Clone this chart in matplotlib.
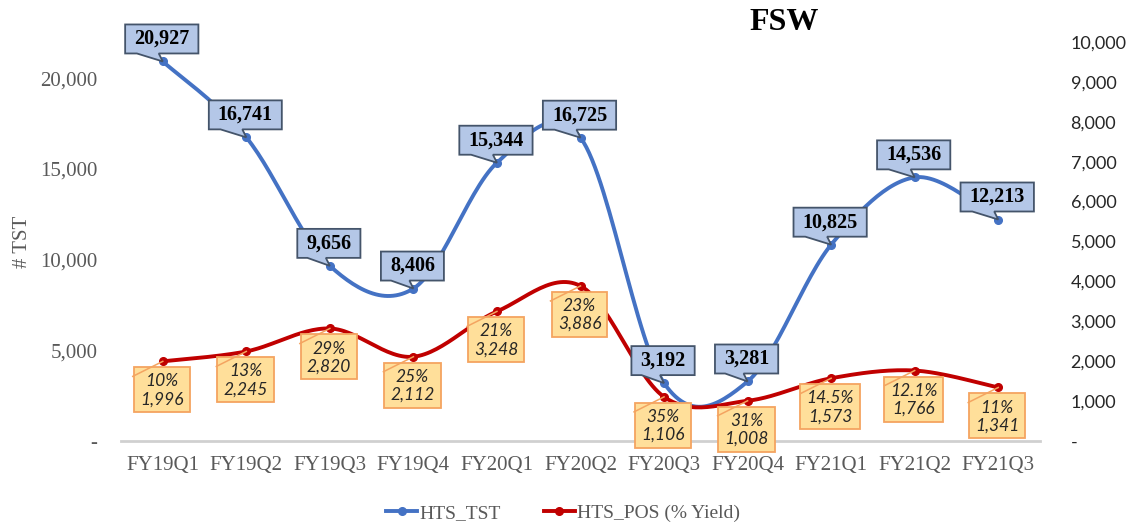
import matplotlib
matplotlib.use("Agg")
import matplotlib.pyplot as plt
import numpy as np
from matplotlib.patches import Polygon, Rectangle
from matplotlib.lines import Line2D
from matplotlib.transforms import IdentityTransform

categories = ["FY19Q1", "FY19Q2", "FY19Q3", "FY19Q4", "FY20Q1", "FY20Q2",
              "FY20Q3", "FY20Q4", "FY21Q1", "FY21Q2", "FY21Q3"]
hts_tst = [20927, 16741, 9656, 8406, 15344, 16725, 3192, 3281, 10825, 14536, 12213]
hts_pos = [1996, 2245, 2820, 2112, 3248, 3886, 1106, 1008, 1573, 1766, 1341]
pos_yield = ["10%", "13%", "29%", "25%", "21%", "23%", "35%", "31%", "14.5%", "12.1%", "11%"]
left_ticks = [0, 5000, 10000, 15000, 20000]
right_ticks = [0, 1000, 2000, 3000, 4000, 5000, 6000, 7000, 8000, 9000, 10000]

BLUE = "#4472C4"
RED = "#C00000"
SERIF = "Liberation Serif"
SANS = "Lato"
GRAY = "#595959"


def smooth(xs, ys, n=30):
    """Excel-style smoothed line (Bezier through points, tension 1/6)."""
    xs = np.asarray(xs, float)
    ys = np.asarray(ys, float)
    P = np.column_stack([xs, ys])
    out = []
    m = len(P)
    for i in range(m - 1):
        p0 = P[i - 1] if i > 0 else P[i]
        p1 = P[i]
        p2 = P[i + 1]
        p3 = P[i + 2] if i + 2 < m else P[i + 1]
        c1 = p1 + (p2 - p0) / 6.0
        c2 = p2 - (p3 - p1) / 6.0
        t = np.linspace(0, 1, n)[:, None]
        seg = ((1 - t) ** 3) * p1 + 3 * ((1 - t) ** 2) * t * c1 + 3 * (1 - t) * t ** 2 * c2 + t ** 3 * p2
        if i > 0:
            seg = seg[1:]
        out.append(seg)
    out = np.vstack(out)
    return out[:, 0], out[:, 1]


fig = plt.figure(figsize=(11.35, 5.27), dpi=100)
ax = fig.add_axes([121 / 1135, 1 - 441 / 527, (1040 - 121) / 1135, (441 - 42) / 527])
ax2 = ax.twinx()

x = np.arange(len(categories))

ax.set_xlim(-0.5, len(categories) - 0.5)
ax.set_ylim(0, 22000)
ax2.set_ylim(0, 10000)

# lines
sx, sy = smooth(x, hts_tst)
ax.plot(sx, sy, color=BLUE, lw=2.8, solid_capstyle="round", zorder=3)
ax.plot(x, hts_tst, "o", color=BLUE, ms=5.5, zorder=4)
rx, ry = smooth(x, hts_pos)
ax2.plot(rx, ry, color=RED, lw=2.8, solid_capstyle="round", zorder=3)
ax2.plot(x, hts_pos, "o", color=RED, ms=5.5, zorder=4)

# axes styling
for a in (ax, ax2):
    for s in a.spines.values():
        s.set_visible(False)
ax.axhline(0, color="#D0D0D0", lw=2, zorder=1, clip_on=False)

ax.set_xticks(x)
ax.set_xticklabels(categories, fontfamily=SERIF, fontsize=15, color=GRAY)
ax.tick_params(axis="x", length=0, pad=11)

ax.set_yticks(left_ticks)
ax.set_yticklabels(["-" if v == 0 else f"{v:,}" for v in left_ticks],
                   fontfamily=SERIF, fontsize=15, color=GRAY)
ax.tick_params(axis="y", length=0, pad=17)
ax.set_ylabel("# TST", fontfamily=SERIF, fontsize=15, color=GRAY, labelpad=6)

ax2.set_yticks(right_ticks)
ax2.set_yticklabels(["-" if v == 0 else f"{v:,}" for v in right_ticks],
                    fontfamily=SANS, fontsize=13, color="#262626")
ax2.tick_params(axis="y", length=0, pad=22)

fig.text(784 / 1135, 1 - 22 / 527, "FSW", ha="center", va="center",
         fontfamily=SERIF, fontweight="bold", fontsize=23, color="black")

# legend
handles = [Line2D([], [], color=BLUE, lw=2.8, marker="o", ms=5.5),
           Line2D([], [], color=RED, lw=2.8, marker="o", ms=5.5)]
fig.legend(handles, ["HTS_TST", "HTS_POS (% Yield)"], loc="center",
           bbox_to_anchor=(563 / 1135, 1 - 513 / 527), ncol=2, frameon=False,
           prop={"family": SERIF, "size": 14}, labelcolor=GRAY,
           handlelength=1.6, handletextpad=0.1, columnspacing=2.2)

# labels (all on the top axes so they sit above the lines)
blue_texts = []
for xi, v in zip(x, hts_tst):
    t = ax2.annotate(f"{v:,}", (xi, v), xycoords=ax.transData, xytext=(-1, 22.5),
                     textcoords="offset pixels", ha="center", va="center",
                     fontfamily=SERIF, fontweight="bold", fontsize=14.5, color="black",
                     zorder=20, annotation_clip=False)
    blue_texts.append(t)

red_texts = []
for xi, v, yl in zip(x, hts_pos, pos_yield):
    t = ax2.annotate(f"{yl}\n{v:,}", (xi, v), xytext=(-1, -29), textcoords="offset pixels",
                     ha="center", va="center", fontfamily=SANS, fontstyle="italic",
                     fontsize=12.5, color="#262626", zorder=20, linespacing=1.15,
                     annotation_clip=False)
    red_texts.append(t)

fig.canvas.draw()
renderer = fig.canvas.get_renderer()

for t, xi, v in zip(blue_texts, x, hts_tst):
    bb = t.get_window_extent(renderer)
    px, py = ax.transData.transform((xi, v))
    w = bb.width + 18
    cx = px - 1
    L, R = cx - w / 2, cx + w / 2
    B = py + 8
    T = B + 29
    verts = [(L, B), (L + 0.16 * w, B), (px, py), (px - 4, B), (R, B), (R, T), (L, T)]
    poly = Polygon(verts, closed=True, facecolor="#B4C7E7", edgecolor="#44546A",
                   lw=1.3, transform=IdentityTransform(), zorder=10, clip_on=False)
    ax2.add_patch(poly)

for t, xi, v in zip(red_texts, x, hts_pos):
    bb = t.get_window_extent(renderer)
    px, py = ax2.transData.transform((xi, v))
    w = max(bb.width + 12, 51)
    cx = px - 1
    T = py - 6
    B = T - 45
    rect = Rectangle((cx - w / 2, B), w, 45, facecolor="#FFDF9A", edgecolor="#F4A460",
                     lw=1.3, transform=IdentityTransform(), zorder=10, clip_on=False)
    ax2.add_patch(rect)
    ax2.add_line(Line2D([px, px - 30], [py, py - 15], color="#F4A460", lw=1.1,
                        transform=IdentityTransform(), zorder=11, clip_on=False))

fig.savefig("out.png", dpi=100)
